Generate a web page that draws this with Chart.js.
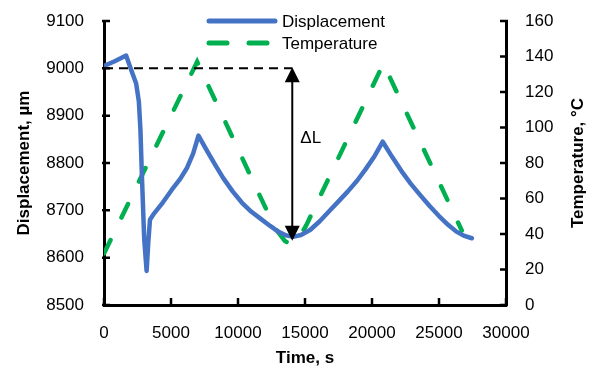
<!DOCTYPE html>
<html>
<head>
<meta charset="utf-8">
<script src="https://cdn.jsdelivr.net/npm/chart.js@4.4.1/dist/chart.umd.min.js"></script>
<style>
  body { margin: 0; background: #fff; }
  #wrap { width: 592px; height: 367px; }
</style>
</head>
<body>
<div id="wrap"><canvas id="myChart"></canvas></div>
<script>
'use strict';

// displacement, um
let dispTime = [0, 800, 1650, 2050, 2400, 2600, 2720, 2820, 3000, 3180, 3300, 3430, 3700, 4400, 5050, 5700,
    6200, 6650, 7050,
    7700, 8300, 8900, 9600, 10300, 11000, 11700, 12400, 13000, 13600, 14100, 14700, 15400,
    16100, 16800, 17500, 18200, 18900, 19500, 20200, 20800,
    21500, 22200, 22900, 23600, 24300, 25000, 25700, 26300, 26900, 27450];
let displacement = [9005, 9015, 9027, 8995, 8968, 8930, 8870, 8780, 8640, 8572, 8630, 8680, 8692, 8717, 8743, 8767,
    8790, 8820, 8858,
    8825, 8796, 8768, 8740, 8716, 8697, 8682, 8667, 8655, 8647, 8644, 8648, 8659,
    8677, 8698, 8719, 8740, 8763, 8786, 8815, 8845,
    8813, 8783, 8756, 8732, 8709, 8688, 8669, 8655, 8646, 8641];

// temperature, C
let tempTime = [0, 6950, 12100, 12800, 13500, 14000, 14500, 15100, 20850, 26700];
let temperature = [29, 137, 54, 43, 36, 34, 37, 45, 136, 42];

// delta L marker
let refLevel = 9000;
let arrowTime = 14050;
let arrowLow = 8638;

let xTicks = [0, 5000, 10000, 15000, 20000, 25000, 30000];

Chart.defaults.font.family = 'Liberation Sans';
Chart.defaults.font.size = 17;
Chart.defaults.color = '#000';

function toPoints(xs, ys) {
    let pts = [];
    for (let i = 0; i < xs.length; i++) {
        pts.push({ x: xs[i], y: ys[i] });
    }
    return pts;
}

let extras = {
    id: 'extras',
    afterDraw(chart) {
        let ctx = chart.ctx;
        let x = chart.scales.x;
        let y = chart.scales.y;
        let y1 = chart.scales.y1;
        let area = chart.chartArea;
        ctx.save();

        // inward tick marks
        ctx.strokeStyle = '#000';
        ctx.lineWidth = 2.5;
        ctx.beginPath();
        x.ticks.forEach(t => {
            let px = x.getPixelForValue(t.value);
            ctx.moveTo(px, area.bottom);
            ctx.lineTo(px, area.bottom - 7);
        });
        y.ticks.forEach(t => {
            let py = y.getPixelForValue(t.value);
            ctx.moveTo(area.left - 2, py);
            ctx.lineTo(area.left + 6, py);
        });
        y1.ticks.forEach(t => {
            let py = y1.getPixelForValue(t.value);
            ctx.moveTo(area.right + 2, py);
            ctx.lineTo(area.right - 6, py);
        });
        ctx.stroke();

        // reference dashed line
        let yRef = y.getPixelForValue(refLevel);
        let xA = x.getPixelForValue(arrowTime);
        let yLow = y.getPixelForValue(arrowLow);
        ctx.lineWidth = 2;
        ctx.setLineDash([9, 6]);
        ctx.beginPath();
        ctx.moveTo(area.left, yRef);
        ctx.lineTo(xA, yRef);
        ctx.stroke();
        ctx.setLineDash([]);

        // double arrow
        ctx.beginPath();
        ctx.moveTo(xA, yRef + 10);
        ctx.lineTo(xA, yLow - 10);
        ctx.stroke();
        ctx.fillStyle = '#000';
        ctx.beginPath();
        ctx.moveTo(xA, yRef - 1);
        ctx.lineTo(xA - 7.5, yRef + 14);
        ctx.lineTo(xA + 7.5, yRef + 14);
        ctx.closePath();
        ctx.fill();
        ctx.beginPath();
        ctx.moveTo(xA, yLow + 1);
        ctx.lineTo(xA - 7.5, yLow - 14);
        ctx.lineTo(xA + 7.5, yLow - 14);
        ctx.closePath();
        ctx.fill();

        ctx.font = '17px Liberation Sans';
        ctx.textAlign = 'left';
        ctx.textBaseline = 'middle';
        ctx.fillText('\u0394L', xA + 8, (yRef + yLow) / 2 - 16);

        // right axis title, reads bottom to top
        ctx.save();
        ctx.translate(578, (area.top + area.bottom) / 2);
        ctx.rotate(-Math.PI / 2);
        ctx.font = 'bold 17px Liberation Sans';
        ctx.textAlign = 'center';
        ctx.fillText('Temperature, \u00b0C', 0, 0);
        ctx.restore();

        // legend
        ctx.lineWidth = 5;
        ctx.lineCap = 'round';
        ctx.strokeStyle = '#4472C4';
        ctx.beginPath();
        ctx.moveTo(209, 21);
        ctx.lineTo(275, 21);
        ctx.stroke();
        ctx.strokeStyle = '#00B050';
        ctx.setLineDash([18, 22]);
        ctx.beginPath();
        ctx.moveTo(209, 43);
        ctx.lineTo(275, 43);
        ctx.stroke();
        ctx.setLineDash([]);
        ctx.font = '17px Liberation Sans';
        ctx.fillStyle = '#000';
        ctx.fillText('Displacement', 282, 22);
        ctx.fillText('Temperature', 282, 44);

        ctx.restore();
    }
};

function noPad(scale) {
    scale.paddingTop = 0;
    scale.paddingBottom = 0;
    scale.paddingLeft = 0;
    scale.paddingRight = 0;
}

let ctx = document.getElementById('myChart').getContext('2d');
let myChart = new Chart(ctx, {
    type: 'line',
    data: {
        datasets: [{
            label: 'Displacement',
            data: toPoints(dispTime, displacement),
            yAxisID: 'y',
            borderColor: '#4472C4',
            borderWidth: 4.5,
            pointRadius: 0,
            tension: 0,
            borderJoinStyle: 'round',
            borderCapStyle: 'round'
        }, {
            label: 'Temperature',
            data: toPoints(tempTime, temperature),
            yAxisID: 'y1',
            borderColor: '#00B050',
            borderWidth: 4.5,
            borderDash: [15, 25],
            borderCapStyle: 'round',
            pointRadius: 0,
            tension: 0
        }]
    },
    options: {
        responsive: true,
        maintainAspectRatio: false,
        animation: false,
        layout: { padding: { top: 21, left: 0, right: 0, bottom: 0 } },
        plugins: {
            legend: { display: false },
            tooltip: { enabled: false }
        },
        scales: {
            x: {
                type: 'linear',
                min: 0,
                max: 30000,
                afterBuildTicks: (scale) => { scale.ticks = xTicks.map(v => ({ value: v })); },
                ticks: { padding: 18, maxRotation: 0, autoSkip: false, callback: (v) => String(v) },
                grid: { display: false, drawTicks: false },
                border: { display: true, color: '#000', width: 3 },
                title: { display: true, text: 'Time, s', font: { weight: 'bold', size: 17 }, padding: { top: 0, bottom: -2 } },
                afterFit: (scale) => { scale.height = 62; noPad(scale); }
            },
            y: {
                position: 'left',
                min: 8500,
                max: 9100,
                ticks: { stepSize: 100, padding: 20, callback: (v) => String(v) },
                grid: { display: false, drawTicks: false },
                border: { display: true, color: '#000', width: 3 },
                title: { display: true, text: 'Displacement, \u00b5m', font: { weight: 'bold', size: 17 }, padding: { top: 14 } },
                afterFit: (scale) => { scale.width = 104; noPad(scale); }
            },
            y1: {
                position: 'right',
                min: 0,
                max: 160,
                ticks: { stepSize: 20, padding: 19, callback: (v) => String(v) },
                grid: { display: false, drawTicks: false },
                border: { display: true, color: '#000', width: 3 },
                afterFit: (scale) => { scale.width = 86; noPad(scale); }
            }
        }
    },
    plugins: [extras]
});
</script>
</body>
</html>
